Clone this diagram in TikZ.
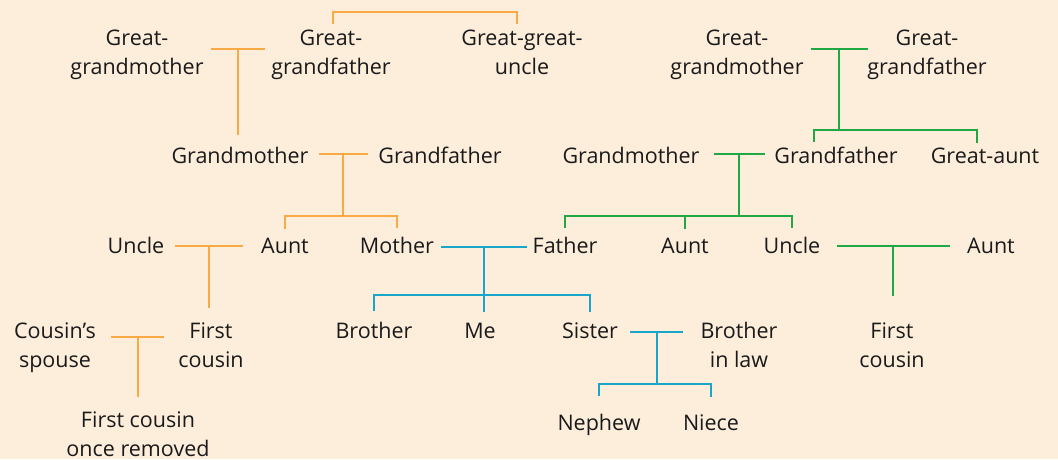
\documentclass[tikz,border=0pt]{standalone}
\usepackage{fontspec}
\setmainfont{Open Sans}
\usepackage{tikz}
\usetikzlibrary{calc}

\definecolor{PaperPeach}{HTML}{FDEEDC}
\definecolor{TreeOrange}{HTML}{F7AA46}
\definecolor{TreeGreen}{HTML}{1FA843}
\definecolor{TreeBlue}{HTML}{18A5CA}
\definecolor{NameInk}{HTML}{1A1A1A}

\tikzset{
  relative/.style={font=\fontsize{21.5}{29}\selectfont, text=NameInk, align=center,
                   anchor=base, inner xsep=5pt, inner ysep=3pt},
  maternal/.style={line width=2pt, color=TreeOrange},
  paternal/.style={line width=2pt, color=TreeGreen},
  family/.style={line width=2pt, color=TreeBlue},
}

\begin{document}
\begin{tikzpicture}[x=1pt, y=-1pt]
            % Background
            \fill [PaperPeach] (0,0) rectangle (1058,459);
            \useasboundingbox (0,0) rectangle (1058,459);

            % Great-grandparents (base is the second line)
            \node [relative] (ogm)  at (137,74) {Great-\\grandmother};
            \node [relative] (ogf)  at (331,74) {Great-\\grandfather};
            \node [relative] (oggu) at (522,74) {Great-great-\\uncle};
            \node [relative] (ggm)  at (737,74) {Great-\\grandmother};
            \node [relative] (ggf)  at (927,74) {Great-\\grandfather};

            % Grandparents
            \node [relative] (mgm) at (240,163) {Grandmother};
            \node [relative] (mgf) at (440,163) {Grandfather};
            \node [relative] (pgm) at (631,163) {Grandmother};
            \node [relative] (pgf) at (836,163) {Grandfather};
            \node [relative] (pga) at (985,163) {Great-aunt};

            % Parents, aunts and uncles
            \node [relative] (muncle) at (136,253) {Uncle};
            \node [relative] (maunt)  at (285,253) {Aunt};
            \node [relative] (mother) at (397,253) {Mother};
            \node [relative] (father) at (565,253) {Father};
            \node [relative] (paunt)  at (685,253) {Aunt};
            \node [relative] (puncle) at (792,253) {Uncle};
            \node [relative] (uaunt)  at (991,253) {Aunt};

            % My generation
            \node [relative] (cspouse) at (55,367)  {Cousin’s\\spouse};
            \node [relative] (mcousin) at (211,367) {First\\cousin};
            \node [relative] (brother) at (374,338) {Brother};
            \node [relative] (me)      at (480,338) {Me};
            \node [relative] (sister)  at (590,338) {Sister};
            \node [relative] (bil)     at (739,367) {Brother\\in law};
            \node [relative] (pcousin) at (892,367) {First\\cousin};

            % Next generation
            \node [relative] (removed) at (138,456) {First cousin\\once removed};
            \node [relative] (nephew)  at (599,430) {Nephew};
            \node [relative] (niece)   at (711,430) {Niece};

            % Mother's side
            \draw [maternal] ([xshift=2pt,yshift=2pt]ogf.north) -- ++(0,-12) -| ([xshift=-5pt,yshift=2pt]oggu.north);
            \draw [maternal] ([xshift=2pt,yshift=25pt]ogm.base east) -- coordinate (oc1) ([xshift=-1pt,yshift=25pt]ogf.base west);
            \draw [maternal, shorten >=8pt] (oc1) -- (oc1 |- mgm.north);
            \draw [maternal] ([xshift=5pt,yshift=9pt]mgm.base east) -- coordinate (oc2) ([xshift=-5pt,yshift=9pt]mgf.base west);
            \draw [maternal] (oc2) -- ++(0,62) coordinate (oj2);
            \draw [maternal, shorten <=5pt, shorten >=5pt] (maunt.north) |- (oj2) -| (mother.north);
            \draw [maternal] ([xshift=6pt,yshift=7pt]muncle.base east) -- coordinate (oc3) ([xshift=-13pt,yshift=7pt]maunt.base west);
            \draw [maternal, shorten >=11pt] (oc3) -- (oc3 |- mcousin.north);
            \draw [maternal] ([xshift=10pt,yshift=30pt]cspouse.base east) -- coordinate (oc4) ([xshift=-9pt,yshift=30pt]mcousin.base west);
            \draw [maternal, shorten >=11pt] (oc4) -- (oc4 |- removed.north);

            % Father's side
            \draw [paternal] ([xshift=2pt,yshift=25pt]ggm.base east) -- coordinate (gc1) ([xshift=6pt,yshift=25pt]ggf.base west);
            \draw [paternal] (gc1) -- ++(0,81) coordinate (gj1);
            \draw [paternal] ([xshift=-22pt,yshift=1.5pt]pgf.north) |- (gj1) -| ([xshift=-8pt,yshift=1.5pt]pga.north);
            \draw [paternal] ([xshift=9pt,yshift=9pt]pgm.base east) -- coordinate (gc2) ([xshift=-4pt,yshift=9pt]pgf.base west);
            \draw [paternal] (gc2) -- ++(0,62) coordinate (gj2);
            \draw [paternal, shorten <=5pt, shorten >=5pt] (father.north) |- (gj2) -| (puncle.north);
            \draw [paternal, shorten >=5pt] (paunt.north |- gj2) -- (paunt.north);
            \draw [paternal] ([xshift=11pt,yshift=7pt]puncle.base east) -- coordinate (gc3) ([xshift=-12pt,yshift=7pt]uaunt.base west);
            \draw [paternal, shorten >=23pt] (gc3) -- (gc3 |- pcousin.north);

            % My family
            \draw [family] ([xshift=2pt,yshift=6pt]mother.base east) -- coordinate (bc1) ([yshift=6pt]father.base west);
            \draw [family, shorten >=7pt] (bc1) -- (bc1 |- me.north);
            \path (bc1) ++(0,48) coordinate (bj1);
            \draw [family, shorten <=7pt, shorten >=7pt] (brother.north) |- (bj1) -| (sister.north);
            \draw [family] ([xshift=7pt,yshift=6pt]sister.base east) -- coordinate (bc2) ([xshift=-12pt,yshift=35pt]bil.base west);
            \draw [family] (bc2) -- ++(0,52) coordinate (bj2);
            \draw [family, shorten <=14pt, shorten >=14pt] (nephew.north) |- (bj2) -| (niece.north);
\end{tikzpicture}
\end{document}
